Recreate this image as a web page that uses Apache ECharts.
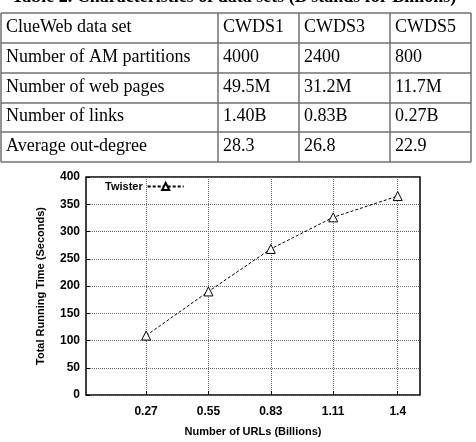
<!DOCTYPE html>
<html>
<head>
<meta charset="utf-8">
<script src="https://cdn.jsdelivr.net/npm/echarts@6/dist/echarts.min.js"></script>
<style>
  html, body { margin: 0; padding: 0; background: #fff; }
  #chart { width: 476px; height: 442px; }
</style>
</head>
<body>
<div id="chart"></div>
<script>
// table data
const tableTitle = 'Table 2. Characteristics of data sets (B stands for Billions)'
const headerRow = ['ClueWeb data set', 'CWDS1', 'CWDS3', 'CWDS5']
const rowLabels = ['Number of AM partitions', 'Number of web pages', 'Number of links', 'Average out-degree']
const cwds1 = ['4000', '49.5M', '1.40B', '28.3']
const cwds3 = ['2400', '31.2M', '0.83B', '26.8']
const cwds5 = ['800', '11.7M', '0.27B', '22.9']

// chart data
const urls = [0.27, 0.55, 0.83, 1.11, 1.4] // billions
const twister = [109, 190, 268, 326, 365] // seconds
const yTicks = [0, 50, 100, 150, 200, 250, 300, 350, 400]

// table layout
const colX = [1, 218, 299, 390, 471]
const rowY = [13, 43, 73, 103, 132, 162]
const serif = '"Liberation Serif", "DejaVu Serif", serif'

function buildTable() {
  const els = []
  const rows = [headerRow].concat(rowLabels.map((l, i) => [l, cwds1[i], cwds3[i], cwds5[i]]))
  rows.forEach((row, r) => {
    row.forEach((txt, c) => {
      els.push({
        type: 'text',
        left: colX[c] + 5,
        top: (rowY[r] + rowY[r + 1]) / 2 - 10,
        style: { text: txt, font: '18px ' + serif, fill: '#000' },
      })
    })
  })
  rowY.forEach(y => {
    els.push({ type: 'line', shape: { x1: colX[0], y1: y, x2: colX[4], y2: y }, style: { stroke: '#707070', lineWidth: 1.5 } })
  })
  colX.forEach(x => {
    els.push({ type: 'line', shape: { x1: x, y1: rowY[0], x2: x, y2: rowY[5] }, style: { stroke: '#707070', lineWidth: 1.5 } })
  })
  // title is cut off by the top edge
  els.push({
    type: 'text',
    x: 234,
    y: 6,
    style: { text: tableTitle, font: 'bold 18px ' + serif, fill: '#000', align: 'center', verticalAlign: 'bottom' },
  })
  return els
}

const chart = echarts.init(document.getElementById('chart'))
const bold = { color: '#000', fontWeight: 'bold', fontFamily: 'Arial, "Liberation Sans", sans-serif' }

chart.setOption({
  backgroundColor: '#fff',
  animation: false,
  graphic: buildTable(),
  grid: { left: 86, top: 177, width: 334, height: 228, show: true, borderColor: '#000', borderWidth: 1.5, containLabel: false },
  legend: {
    left: 100,
    top: 176,
    align: 'right',
    itemWidth: 36,
    itemHeight: 9,
    itemGap: 0,
    textStyle: { ...bold, fontSize: 11, padding: [0, 0, 0, 0] },
    data: ['Twister'],
  },
  xAxis: {
    type: 'value',
    min: 0,
    max: 1.5,
    name: 'Number of URLs (Billions)',
    nameLocation: 'middle',
    nameGap: 31,
    nameTextStyle: { ...bold, fontSize: 11 },
    axisLine: { show: false },
    axisTick: { show: true, inside: true, length: 4, customValues: urls, lineStyle: { color: '#000' } },
    axisLabel: { ...bold, fontSize: 12, margin: 11, customValues: urls, formatter: v => String(v) },
    splitLine: { show: true, lineStyle: { color: '#666', type: 'dotted', width: 1 } },
  },
  yAxis: {
    type: 'value',
    min: 0,
    max: 400,
    interval: 50,
    name: 'Total Running Time (Seconds)',
    nameLocation: 'middle',
    nameGap: 40,
    nameTextStyle: { ...bold, fontSize: 11 },
    axisLine: { show: false },
    axisTick: { show: true, inside: true, length: 4, lineStyle: { color: '#000' } },
    axisLabel: { ...bold, fontSize: 12, margin: 6, customValues: yTicks },
    splitLine: { show: true, lineStyle: { color: '#666', type: 'dotted', width: 1 } },
  },
  series: [
    {
      name: 'Twister',
      type: 'line',
      data: urls.map((u, i) => [u, twister[i]]),
      symbol: 'triangle',
      symbolSize: 9,
      itemStyle: { color: '#fff', borderColor: '#000', borderWidth: 1 },
      lineStyle: { color: '#000', width: 1, type: [3, 2] },
    },
  ],
})
</script>
</body>
</html>
